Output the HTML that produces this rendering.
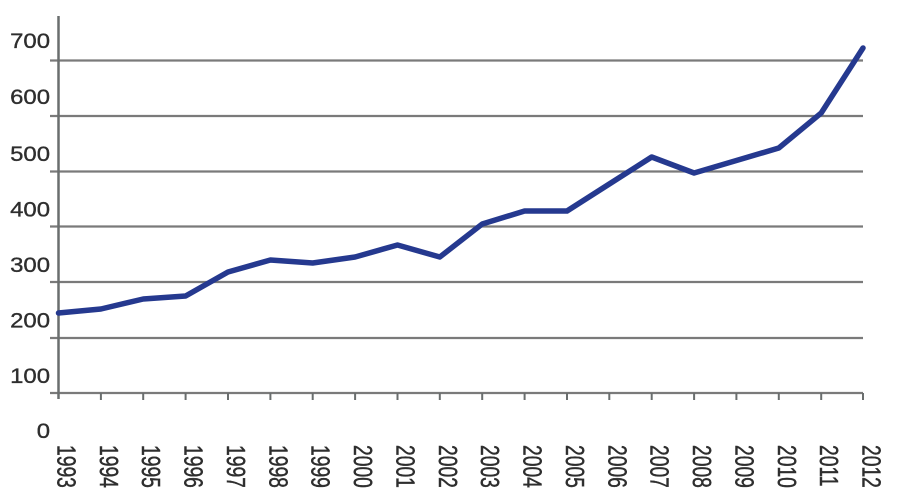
<!DOCTYPE html>
<html>
<head>
<meta charset="utf-8">
<style>
html,body{margin:0;padding:0;background:#fff;}
svg{display:block;}
text{font-family:"Liberation Sans",sans-serif;fill:#2e2e2e;stroke:#2e2e2e;stroke-width:0.35px;}
</style>
</head>
<body>
<svg width="900" height="501" viewBox="0 0 900 501" xmlns="http://www.w3.org/2000/svg">
  <rect width="900" height="501" fill="#fff"/>
  <!-- gridlines -->
  <g stroke="#7a7a7a" stroke-width="2.2">
    <line x1="50" y1="60.5" x2="863" y2="60.5"/>
    <line x1="50" y1="116" x2="863" y2="116"/>
    <line x1="50" y1="171.5" x2="863" y2="171.5"/>
    <line x1="50" y1="226.5" x2="863" y2="226.5"/>
    <line x1="50" y1="282" x2="863" y2="282"/>
    <line x1="50" y1="338" x2="863" y2="338"/>
    <line x1="50" y1="393" x2="863" y2="393"/>
  </g>
  <!-- y axis -->
  <line x1="58.5" y1="16" x2="58.5" y2="399" stroke="#6a6e6e" stroke-width="2.5"/>
  <!-- x ticks -->
  <g stroke="#6a6e6e" stroke-width="2">
    <line x1="100.9" y1="393" x2="100.9" y2="400"/>
    <line x1="143.2" y1="393" x2="143.2" y2="400"/>
    <line x1="185.6" y1="393" x2="185.6" y2="400"/>
    <line x1="228" y1="393" x2="228" y2="400"/>
    <line x1="270.4" y1="393" x2="270.4" y2="400"/>
    <line x1="312.7" y1="393" x2="312.7" y2="400"/>
    <line x1="355.1" y1="393" x2="355.1" y2="400"/>
    <line x1="397.5" y1="393" x2="397.5" y2="400"/>
    <line x1="439.8" y1="393" x2="439.8" y2="400"/>
    <line x1="482.2" y1="393" x2="482.2" y2="400"/>
    <line x1="524.6" y1="393" x2="524.6" y2="400"/>
    <line x1="567" y1="393" x2="567" y2="400"/>
    <line x1="609.3" y1="393" x2="609.3" y2="400"/>
    <line x1="651.7" y1="393" x2="651.7" y2="400"/>
    <line x1="694.1" y1="393" x2="694.1" y2="400"/>
    <line x1="736.4" y1="393" x2="736.4" y2="400"/>
    <line x1="778.8" y1="393" x2="778.8" y2="400"/>
    <line x1="821.2" y1="393" x2="821.2" y2="400"/>
    <line x1="863" y1="393" x2="863" y2="400"/>
  </g>
  <!-- y labels -->
  <g font-size="21" text-anchor="end">
    <text transform="translate(50,48) scale(1.14,1)">700</text>
    <text transform="translate(50,104) scale(1.14,1)">600</text>
    <text transform="translate(50,161) scale(1.14,1)">500</text>
    <text transform="translate(50,216.5) scale(1.14,1)">400</text>
    <text transform="translate(50,272) scale(1.14,1)">300</text>
    <text transform="translate(50,327.5) scale(1.14,1)">200</text>
    <text transform="translate(50,383) scale(1.14,1)">100</text>
    <text transform="translate(50,438) scale(1.14,1)">0</text>
  </g>
  <!-- x labels rotated -->
  <g font-size="19.3">
    <text transform="translate(57.5,445) scale(1.35,1) rotate(90)">1993</text>
    <text transform="translate(99.9,445) scale(1.35,1) rotate(90)">1994</text>
    <text transform="translate(142.2,445) scale(1.35,1) rotate(90)">1995</text>
    <text transform="translate(184.6,445) scale(1.35,1) rotate(90)">1996</text>
    <text transform="translate(227,445) scale(1.35,1) rotate(90)">1997</text>
    <text transform="translate(269.4,445) scale(1.35,1) rotate(90)">1998</text>
    <text transform="translate(311.7,445) scale(1.35,1) rotate(90)">1999</text>
    <text transform="translate(354.1,445) scale(1.35,1) rotate(90)">2000</text>
    <text transform="translate(396.5,445) scale(1.35,1) rotate(90)">2001</text>
    <text transform="translate(438.8,445) scale(1.35,1) rotate(90)">2002</text>
    <text transform="translate(481.2,445) scale(1.35,1) rotate(90)">2003</text>
    <text transform="translate(523.6,445) scale(1.35,1) rotate(90)">2004</text>
    <text transform="translate(566,445) scale(1.35,1) rotate(90)">2005</text>
    <text transform="translate(608.3,445) scale(1.35,1) rotate(90)">2006</text>
    <text transform="translate(650.7,445) scale(1.35,1) rotate(90)">2007</text>
    <text transform="translate(693.1,445) scale(1.35,1) rotate(90)">2008</text>
    <text transform="translate(735.4,445) scale(1.35,1) rotate(90)">2009</text>
    <text transform="translate(777.8,445) scale(1.35,1) rotate(90)">2010</text>
    <text transform="translate(820.2,445) scale(1.35,1) rotate(90)">2011</text>
    <text transform="translate(862.5,445) scale(1.35,1) rotate(90)">2012</text>
  </g>
  <!-- data line -->
  <polyline fill="none" stroke="#25398f" stroke-width="5.5" stroke-linejoin="round" stroke-linecap="round"
    points="58.5,313 100.9,309 143.2,299 185.6,296 228,272 270.4,260 312.7,263 355.1,257 397.5,245 439.8,257 482.2,224 524.6,211 567,211 609.3,184 651.7,157 694.1,173 736.4,160.5 778.8,148 821.2,113 863,48"/>
</svg>
</body>
</html>
